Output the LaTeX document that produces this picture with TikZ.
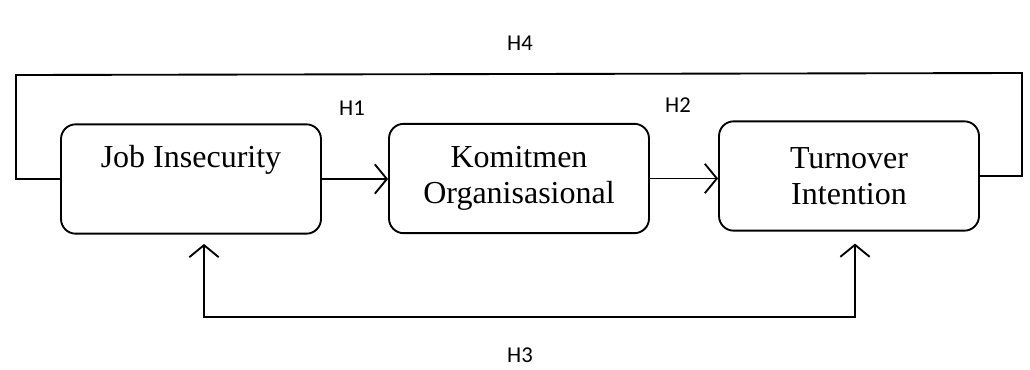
\documentclass[tikz,border=0pt]{standalone}
\usepackage{fontspec}
\setmainfont{Liberation Serif}
\newfontfamily\hfont{Carlito}
\usetikzlibrary{arrows.meta,calc}

\tikzset{
  var/.style={draw, line width=1.4pt, rounded corners=11pt, minimum width=195pt,
    minimum height=82pt, align=center, font=\fontsize{24}{27}\selectfont},
  hyp/.style={font=\hfont\fontsize{17}{20}\selectfont},
  link/.style={line width=1.4pt},
  barb/.tip={Straight Barb[length=9pt,width=22pt]},
  tip/.style={link, -{barb}}
}

\begin{document}
\begin{tikzpicture}[x=0.75pt,y=-0.75pt]

\useasboundingbox (0,0) rectangle (1030,369);

% variables
\node[var, text depth=34pt] (job) at (191,179) {Job Insecurity};
\node[var] (kom) at (519,178.5) {Komitmen\\Organisasional};
\node[var] (turn) at (849,176) {Turnover\\Intention};

% H1, H2
\draw[tip] (job.east) -- (job.east -| kom.west);
\draw[tip] (kom.east) -- (kom.east -| turn.west);

% H4 loop on top
\coordinate (topleft) at (16,75);
\coordinate (topright) at (1022,73);
\draw[link] (job.west) -| (topleft) -- (topright) |- (turn.east);

% H3 below
\coordinate (botleft) at (204,317);
\coordinate (botright) at (855,317);
\draw[link, {barb}-{barb}, shorten <=7pt, shorten >=9pt]
  (botleft |- job.south) -- (botleft) -- (botright) -- (botright |- turn.south);

\node[hyp] (h1) at (352,108) {H1};
\node[hyp] (h2) at (678,105) {H2};
\node[hyp] (h3) at (520,355) {H3};
\node[hyp] (h4) at (520,43) {H4};

\end{tikzpicture}
\end{document}
